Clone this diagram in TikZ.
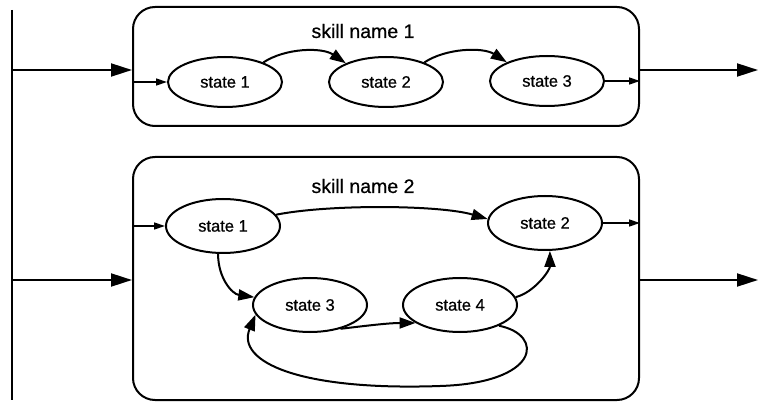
\documentclass[tikz,border=0pt]{standalone}
\usepackage{fontspec}
\setmainfont{Liberation Sans}[FakeBold=0.6]
\newfontfamily\labelfont{Liberation Sans}[FakeBold=0.6,AutoFakeBold=0.6]
\usetikzlibrary{arrows.meta,shapes.geometric}
\begin{document}
\begin{tikzpicture}[x=1pt,y=-1pt,
  skillbox/.style={draw,line width=2pt,rounded corners=22pt,minimum width=506pt,inner sep=0pt},
  statenode/.style={draw,ellipse,line width=2pt,minimum width=114pt,minimum height=50pt,inner sep=0pt,font=\labelfont\fontsize{16.5}{18}\selectfont},
  titletext/.style={font=\labelfont\fontsize{19.5}{21}\selectfont,inner sep=0pt},
  bigarrow/.style={line width=2pt,-{Triangle[length=21pt,width=13pt]}},
  midarrow/.style={line width=2pt,-{Triangle[length=16pt,width=11pt]}},
  smallarrow/.style={line width=1.4pt,-{Triangle[length=11pt,width=7pt]}},
  plainline/.style={line width=2pt}
]
\path[use as bounding box] (0,0) rectangle (760,403);

% left bus
\coordinate (bt) at (12,10);
\coordinate (bb) at (12,400);
\draw[plainline] (bt) -- (bb);

% boxes
\node[skillbox,minimum height=119pt] (b1) at (386,66.5) {};
\node[skillbox,minimum height=243pt] (b2) at (386,278.5) {};

\node[titletext] (t1) at (363,31) {skill name 1};
\node[titletext] (t2) at (363,186) {skill name 2};

% outer arrows
\coordinate (l1) at (12,70);
\coordinate (l2) at (12,280);
\coordinate (r1) at (758,70);
\coordinate (r2) at (758,280);
\draw[bigarrow] (l1) -- (l1 -| b1.west);
\draw[bigarrow] (l2) -- (l2 -| b2.west);
\draw[bigarrow] (r1 -| b1.east) -- (r1);
\draw[bigarrow] (r2 -| b2.east) -- (r2);

% skill 1 states
\node[statenode] (s11) at (225,82) {state 1};
\node[statenode] (s12) at (386,82) {state 2};
\node[statenode] (s13) at (547,81) {state 3};

\draw[smallarrow] (s11.west -| b1.west) -- (s11.west);
\draw[midarrow] (s11.27) .. controls (285,48) and (322,47) .. (s12.155);
\draw[midarrow] (s12.27) .. controls (446,48) and (483,47) .. (s13.155);
\draw[smallarrow] (s13.east) -- (s13.east -| b1.east);

% skill 2 states
\node[statenode,minimum height=54pt] (s21) at (223,226) {state 1};
\node[statenode,minimum height=54pt] (s22) at (545,223) {state 2};
\node[statenode,minimum height=54pt] (s23) at (310,305) {state 3};
\node[statenode,minimum height=54pt] (s24) at (460,305) {state 4};

\draw[smallarrow] (s21.west -| b2.west) -- (s21.west);
\draw[smallarrow] (s22.east) -- (s22.east -| b2.east);
\draw[midarrow] (s21.12) .. controls (330,204) and (440,205) .. (s22.176);
\draw[midarrow] (s21.-100) .. controls (218,278) and (232,294) .. (s23.172);
\draw[midarrow] (s23.-38) .. controls (372,325) and (390,323) .. (s24.-158);
\draw[midarrow] (s24.8) .. controls (535,292) and (550,270) .. (s22.-80);
\coordinate (lp) at (440,386);
\draw[midarrow] (s24.-28) .. controls (545,335) and (540,383) .. (lp)
  .. controls (300,391) and (236,362) .. (s23.190);
\end{tikzpicture}
\end{document}
